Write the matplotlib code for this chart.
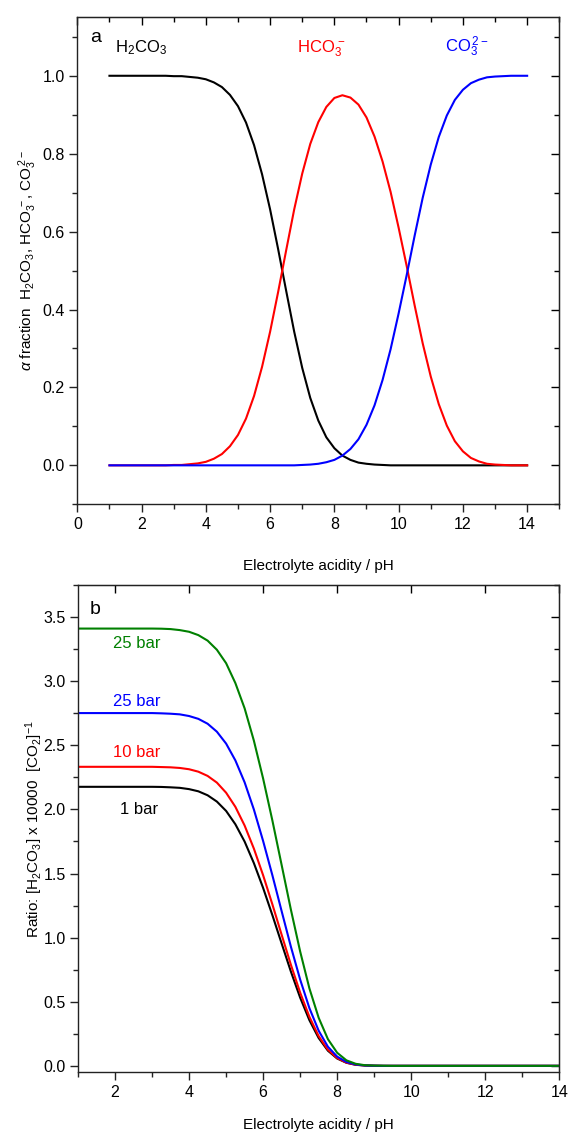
import matplotlib
matplotlib.use("Agg")
import matplotlib.pyplot as plt
from matplotlib.ticker import MultipleLocator, FormatStrFormatter, NullLocator

plt.rcParams['font.family'] = ['Liberation Sans', 'DejaVu Sans']
plt.rcParams['mathtext.fontset'] = 'custom'
plt.rcParams['mathtext.rm'] = 'Liberation Sans'
plt.rcParams['mathtext.it'] = 'Liberation Sans:italic'
plt.rcParams['mathtext.bf'] = 'Liberation Sans:bold'

# pH grid shared by every curve
ph = [1.0, 1.25, 1.5, 1.75, 2.0, 2.25, 2.5, 2.75, 3.0, 3.25, 3.5, 3.75, 4.0,
      4.25, 4.5, 4.75, 5.0, 5.25, 5.5, 5.75, 6.0, 6.25, 6.5, 6.75, 7.0, 7.25,
      7.5, 7.75, 8.0, 8.25, 8.5, 8.75, 9.0, 9.25, 9.5, 9.75, 10.0, 10.25,
      10.5, 10.75, 11.0, 11.25, 11.5, 11.75, 12.0, 12.25, 12.5, 12.75, 13.0,
      13.25, 13.5, 13.75, 14.0]

# panel a: alpha fractions
frac_h2co3 = [1.0, 1.0, 1.0, 1.0, 1.0, 1.0, 1.0, 1.0, 0.999, 0.999, 0.997,
              0.995, 0.991, 0.983, 0.971, 0.951, 0.922, 0.880, 0.822, 0.747,
              0.657, 0.555, 0.448, 0.343, 0.250, 0.173, 0.115, 0.072, 0.044,
              0.025, 0.014, 0.007, 0.004, 0.002, 0.001, 0.0, 0.0, 0.0, 0.0,
              0.0, 0.0, 0.0, 0.0, 0.0, 0.0, 0.0, 0.0, 0.0, 0.0, 0.0, 0.0, 0.0,
              0.0]
frac_hco3 = [0.0, 0.0, 0.0, 0.0, 0.0, 0.0, 0.0, 0.0, 0.001, 0.001, 0.003,
             0.005, 0.009, 0.017, 0.029, 0.049, 0.078, 0.120, 0.178, 0.253,
             0.343, 0.445, 0.552, 0.657, 0.749, 0.825, 0.881, 0.920, 0.943,
             0.950, 0.944, 0.926, 0.893, 0.844, 0.780, 0.702, 0.610, 0.512,
             0.410, 0.313, 0.228, 0.157, 0.102, 0.062, 0.036, 0.019, 0.010,
             0.004, 0.002, 0.001, 0.0, 0.0, 0.0]
frac_co3 = [0.0, 0.0, 0.0, 0.0, 0.0, 0.0, 0.0, 0.0, 0.0, 0.0, 0.0, 0.0, 0.0,
            0.0, 0.0, 0.0, 0.0, 0.0, 0.0, 0.0, 0.0, 0.0, 0.0, 0.0, 0.001,
            0.002, 0.004, 0.008, 0.014, 0.025, 0.042, 0.067, 0.104, 0.154,
            0.219, 0.298, 0.390, 0.488, 0.590, 0.687, 0.772, 0.843, 0.898,
            0.938, 0.964, 0.981, 0.990, 0.996, 0.998, 0.999, 1.0, 1.0, 1.0]

# panel b: [H2CO3]/[CO2] x 10000
ratio_1bar = [2.176, 2.176, 2.176, 2.176, 2.176, 2.176, 2.176, 2.176, 2.176,
              2.175, 2.172, 2.168, 2.158, 2.141, 2.110, 2.061, 1.988, 1.884,
              1.749, 1.581, 1.387, 1.175, 0.954, 0.735, 0.532, 0.356, 0.217,
              0.118, 0.057, 0.024, 0.008, 0.003, 0.001, 0.0, 0.0, 0.0, 0.0,
              0.0, 0.0, 0.0, 0.0, 0.0, 0.0, 0.0, 0.0, 0.0, 0.0, 0.0, 0.0, 0.0,
              0.0, 0.0, 0.0]
ratio_10bar = [2.332, 2.332, 2.332, 2.332, 2.332, 2.332, 2.332, 2.332, 2.332,
               2.330, 2.328, 2.323, 2.313, 2.294, 2.261, 2.209, 2.130, 2.020,
               1.874, 1.694, 1.486, 1.259, 1.022, 0.788, 0.571, 0.382, 0.232,
               0.126, 0.061, 0.025, 0.009, 0.003, 0.001, 0.0, 0.0, 0.0, 0.0,
               0.0, 0.0, 0.0, 0.0, 0.0, 0.0, 0.0, 0.0, 0.0, 0.0, 0.0, 0.0, 0.0,
               0.0, 0.0, 0.0]
ratio_25bar_blue = [2.751, 2.751, 2.751, 2.751, 2.751, 2.751, 2.751, 2.751,
                    2.751, 2.749, 2.746, 2.741, 2.728, 2.706, 2.668, 2.606,
                    2.513, 2.382, 2.211, 1.999, 1.753, 1.486, 1.206, 0.929,
                    0.673, 0.450, 0.274, 0.149, 0.072, 0.030, 0.011, 0.003,
                    0.001, 0.0, 0.0, 0.0, 0.0, 0.0, 0.0, 0.0, 0.0, 0.0, 0.0,
                    0.0, 0.0, 0.0, 0.0, 0.0, 0.0, 0.0, 0.0, 0.0, 0.0]
ratio_25bar_green = [3.410, 3.410, 3.410, 3.410, 3.410, 3.410, 3.410, 3.410,
                     3.410, 3.409, 3.406, 3.398, 3.385, 3.359, 3.316, 3.245,
                     3.140, 2.985, 2.788, 2.536, 2.240, 1.913, 1.566, 1.218,
                     0.892, 0.604, 0.375, 0.208, 0.102, 0.043, 0.016, 0.005,
                     0.002, 0.001, 0.0, 0.0, 0.0, 0.0, 0.0, 0.0, 0.0, 0.0,
                     0.0, 0.0, 0.0, 0.0, 0.0, 0.0, 0.0, 0.0, 0.0, 0.0, 0.0]

LW = 1.5
TICK_FS = 11.5
LABEL_FS = 11


def style_axes(ax, xmaj, xmin, ymaj, ymin, top_minor):
    for sp in ax.spines.values():
        sp.set_linewidth(1.0)
        sp.set_color('#222222')
    ax.xaxis.set_major_locator(MultipleLocator(xmaj))
    ax.xaxis.set_minor_locator(MultipleLocator(xmin))
    ax.yaxis.set_major_locator(MultipleLocator(ymaj))
    ax.yaxis.set_minor_locator(MultipleLocator(ymin))
    ax.yaxis.set_major_formatter(FormatStrFormatter('%.1f'))
    ax.tick_params(which='both', direction='out', top=False, right=False,
                   labelsize=TICK_FS, pad=3.5, width=1.0, color='#222222')
    ax.tick_params(which='major', length=5.5)
    ax.tick_params(which='minor', length=3.5)

    # inward ticks on the top and right frame
    sx = ax.secondary_xaxis('top')
    sx.xaxis.set_major_locator(MultipleLocator(xmaj))
    if top_minor:
        sx.xaxis.set_minor_locator(MultipleLocator(xmin))
    else:
        sx.xaxis.set_minor_locator(NullLocator())
    sx.tick_params(which='both', direction='in', labeltop=False, width=1.0)
    sx.tick_params(which='major', length=5.5)
    sx.tick_params(which='minor', length=3.5)

    sy = ax.secondary_yaxis('right')
    sy.yaxis.set_major_locator(MultipleLocator(ymaj))
    sy.yaxis.set_minor_locator(MultipleLocator(ymin))
    sy.tick_params(which='both', direction='in', labelright=False, width=1.0)
    sy.tick_params(which='major', length=5.5)
    sy.tick_params(which='minor', length=3.5)


fig = plt.figure(figsize=(5.69, 11.33), dpi=100)

# ---- panel a ----
ax1 = fig.add_axes([0.1359, 0.5549, 0.8470, 0.4298])
ax1.plot(ph, frac_h2co3, color='black', lw=LW, solid_joinstyle='round')
ax1.plot(ph, frac_hco3, color='#ff0000', lw=LW, solid_joinstyle='round')
ax1.plot(ph, frac_co3, color='#0000ff', lw=LW, solid_joinstyle='round')
ax1.set_xlim(0, 15)
ax1.set_ylim(-0.1, 1.15)
style_axes(ax1, 2, 1, 0.2, 0.1, True)

ax1.text(0.39, 1.086, 'a', fontsize=14)
ax1.text(1.17, 1.061, r'H$_2$CO$_3$', fontsize=12, color='black')
ax1.text(6.84, 1.061, r'HCO$_3^{\,-}$', fontsize=12, color='#ff0000')
ax1.text(11.44, 1.061, r'CO$_3^{\,2-}$', fontsize=12, color='#0000ff')

ax1.set_xlabel('Electrolyte acidity / pH', fontsize=LABEL_FS)
ax1.xaxis.set_label_coords(0.5, -0.112)
ax1.set_ylabel(r'$\alpha$ fraction  H$_2$CO$_3$, HCO$_3^{\,-}$, CO$_3^{\,2-}$',
               fontsize=LABEL_FS)
ax1.yaxis.set_label_coords(-0.08, 0.5)

# ---- panel b ----
ax2 = fig.add_axes([0.1371, 0.0536, 0.8459, 0.4301])
ax2.plot(ph, ratio_1bar, color='black', lw=LW, solid_joinstyle='round')
ax2.plot(ph, ratio_10bar, color='#ff0000', lw=LW, solid_joinstyle='round')
ax2.plot(ph, ratio_25bar_blue, color='#0000ff', lw=LW, solid_joinstyle='round')
ax2.plot(ph, ratio_25bar_green, color='#008000', lw=LW, solid_joinstyle='round')
ax2.set_xlim(1, 14)
ax2.set_ylim(-0.05, 3.75)
style_axes(ax2, 2, 1, 0.5, 0.25, False)

ax2.text(1.32, 3.523, 'b', fontsize=14)
ax2.text(1.95, 3.258, '25 bar', fontsize=12, color='#008000')
ax2.text(1.95, 2.808, '25 bar', fontsize=12, color='#0000ff')
ax2.text(1.95, 2.41, '10 bar', fontsize=12, color='#ff0000')
ax2.text(2.13, 1.963, '1 bar', fontsize=12, color='black')

ax2.set_xlabel('Electrolyte acidity / pH', fontsize=LABEL_FS)
ax2.xaxis.set_label_coords(0.5, -0.094)
ax2.set_ylabel(r'Ratio: [H$_2$CO$_3$] x 10000  [CO$_2$]$^{-1}$', fontsize=LABEL_FS)
ax2.yaxis.set_label_coords(-0.069, 0.5)

fig.savefig('out.png', dpi=100)
